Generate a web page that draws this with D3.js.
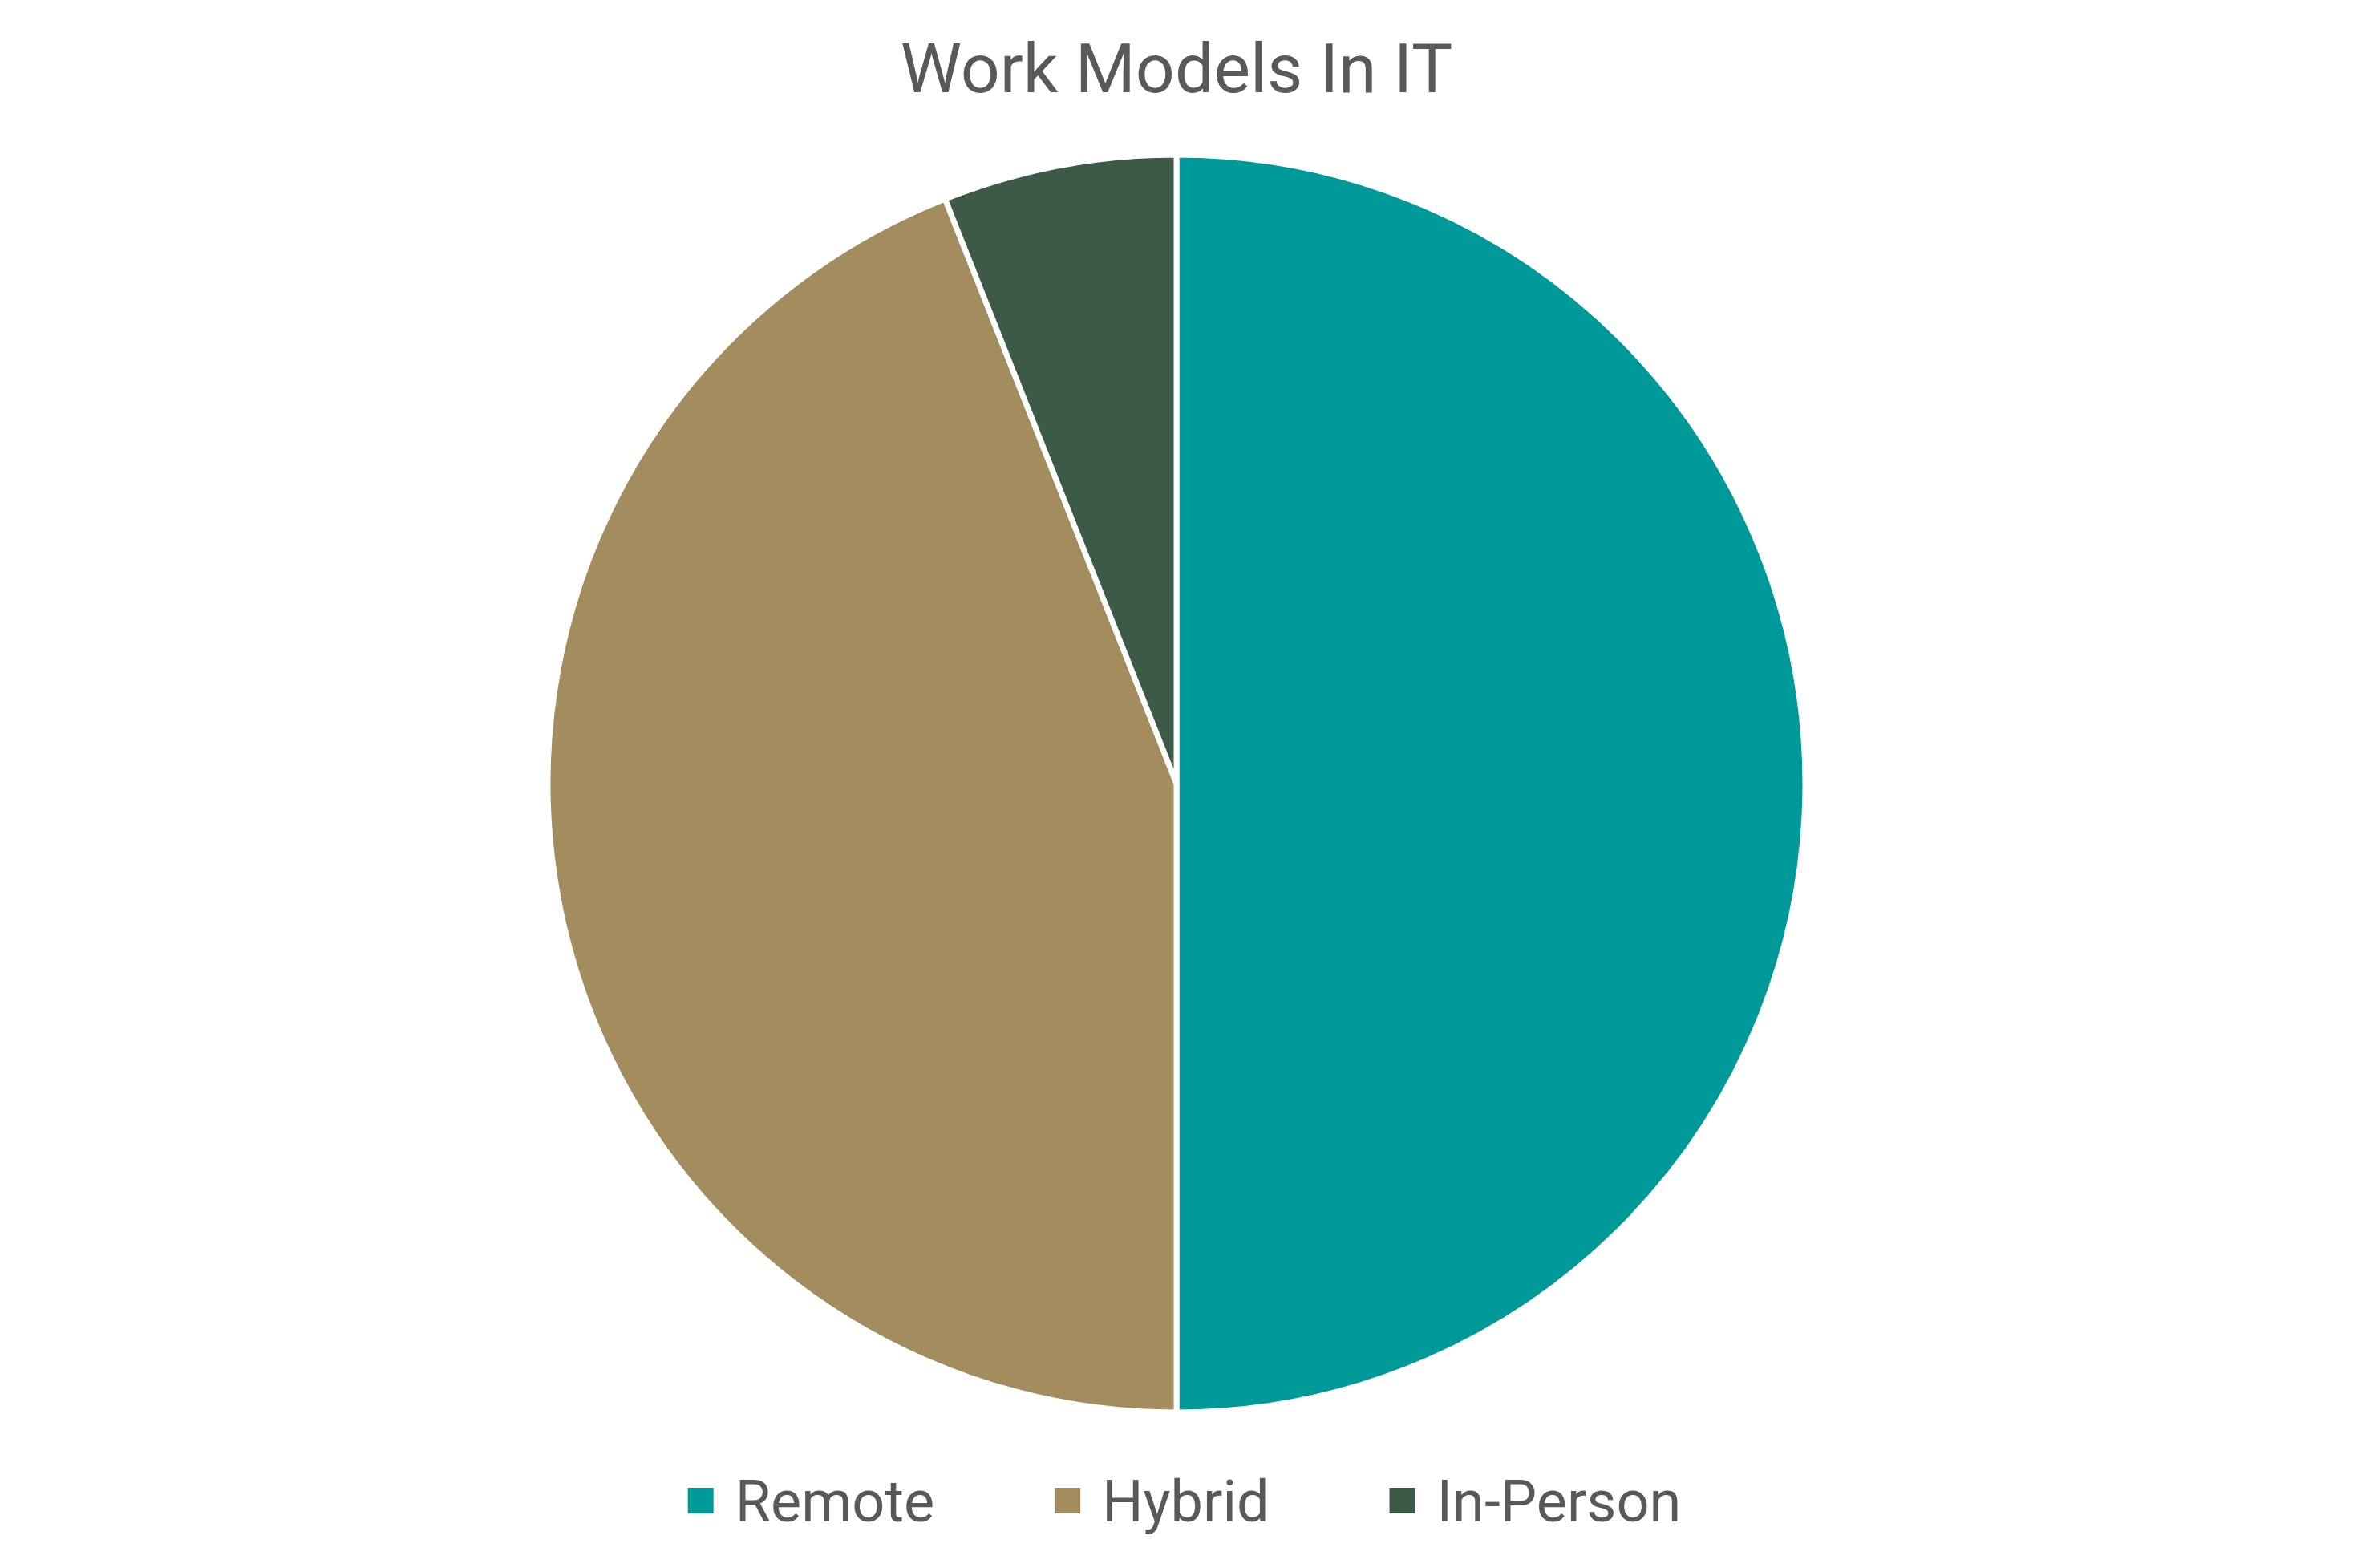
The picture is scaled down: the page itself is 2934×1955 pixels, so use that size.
<!DOCTYPE html>
<html>
<head>
<meta charset="utf-8">
<script src="https://cdn.jsdelivr.net/npm/d3@7"></script>
<style>
  html, body { margin: 0; padding: 0; background: #fff; }
  text { font-family: Roboto, "Noto Sans", sans-serif; fill: #595959; }
</style>
</head>
<body>
<div id="chart"></div>
<script>
// Data
const categories = ["Remote", "Hybrid", "In-Person"];
const shares = [50, 44, 6];
const colors = ["#009999", "#A38C5E", "#3D5A47"];
const title = "Work Models In IT";

// Canvas size
const owidth = 2934, oheight = 1955;
const cx = 1467, cy = 977, radius = 784;

const svg = d3.select("#chart").append("svg")
  .attr("width", owidth)
  .attr("height", oheight);

// Title
svg.append("text")
  .attr("x", cx)
  .attr("y", 115)
  .attr("text-anchor", "middle")
  .attr("font-size", 86)
  .text(title);

// Pie
const rows = categories.map((c, i) => ({ name: c, value: shares[i], color: colors[i] }));
const pie = d3.pie().value(d => d.value).sort(null);
const arc = d3.arc().innerRadius(0).outerRadius(radius);

const canvas = svg.append("g")
  .attr("transform", `translate(${cx}, ${cy})`);
canvas.selectAll("path")
  .data(pie(rows))
  .join("path")
    .attr("d", arc)
    .attr("fill", d => d.data.color)
    .attr("stroke", "#fff")
    .attr("stroke-width", 7)
    .attr("stroke-linejoin", "round");

// Legend, centred under the pie
const legend = svg.append("g");
const box = 32, textGap = 27, itemGap = 150, fs = 72;
let x = 0;
const items = legend.selectAll("g")
  .data(rows)
  .join("g");
items.append("rect")
  .attr("width", box)
  .attr("height", box)
  .attr("y", -box / 2)
  .attr("fill", d => d.color);
items.append("text")
  .attr("x", box + textGap)
  .attr("y", fs * 0.36)
  .attr("font-size", fs)
  .text(d => d.name);
items.each(function() {
  d3.select(this).attr("transform", `translate(${x}, 0)`);
  x += this.getBBox().width + itemGap;
});
const total = x - itemGap;
legend.attr("transform", `translate(${cx - total / 2 + 10}, 1871)`);
</script>
</body>
</html>
